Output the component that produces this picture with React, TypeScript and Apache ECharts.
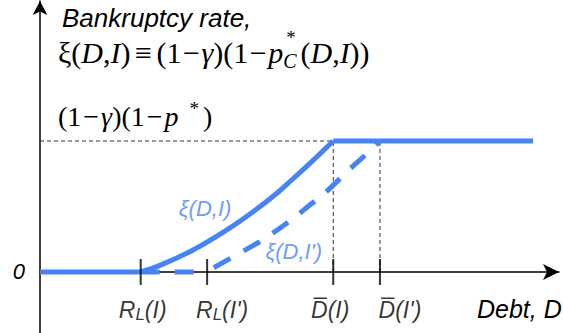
import React, { useEffect, useRef } from "react";
import * as echarts from "echarts";

// ---- data (x: 0..100 along the debt axis, y: 0 = axis, 1 = cap level) ----
const flatLeftX = [0, 19.4];
const flatLeftY = [0, 0];
const curveIX = [19.4, 23.1, 29.5, 36.0, 41.0, 45.7, 48.7, 52.0, 56.5];
const curveIY = [0, 0.05, 0.168, 0.321, 0.458, 0.603, 0.71, 0.829, 1.0];
const plateauX = [56.5, 95.0];
const plateauY = [1, 1];
const flatPrimeX = [19.4, 32.2];
const flatPrimeY = [0, 0];
const curvePrimeX = [32.2, 34.1, 38.5, 42.4, 47.6, 52.0, 55.3, 59.7, 62.6, 65.5];
const curvePrimeY = [0, 0.046, 0.145, 0.233, 0.374, 0.511, 0.618, 0.786, 0.889, 1.0];

const tickValues = [19.4, 32.2, 56.5, 65.5];
const tickLabels = [
  "{m|R}{s|L}{m|(I)}",
  "{m|R}{s|L}{m|(I')}",
  "{m|D\u0305(I)}",
  "{m|D\u0305(I')}",
];
const capLevel = 1;
const curveNames = ["ξ(D,I)", "ξ(D,I')"];

// ---- layout / style ----
const X_MIN = 0;
const X_MAX = 100;
const Y_MIN = -0.466;
const Y_MAX = 2.069;
const tickLabelShift = [2, 15, -3, 20];
const curveLabelPos = [
  [31.8, 0.481],
  [48.9, 0.153],
];
const BLUE = "#4683f5";
const SANS = "Liberation Sans";
const SERIF = "Liberation Serif";

const zip = (xs: number[], ys: number[]) => xs.map((x, i) => [x, ys[i]]);

export default function App() {
  const ref = useRef<HTMLDivElement>(null);
  useEffect(() => {
    if (!ref.current) return;
    const chart = echarts.init(ref.current, null, { renderer: "svg" });
    const blueSolid = { color: BLUE, width: 5, cap: "butt", join: "round" };
    const blueDash = { color: BLUE, width: 5, type: [19, 15], cap: "butt", join: "round" };
    const blueDashCurve = { ...blueDash, dashOffset: 26 };
    const guide = { color: "#333", width: 1, type: [4, 3] };
    const topRich = {
      n: { fontFamily: SERIF, fontSize: 30, color: "#000", lineHeight: 36 },
      i: { fontFamily: SERIF, fontSize: 30, fontStyle: "italic", color: "#000", lineHeight: 36 },
      o: { fontFamily: SERIF, fontSize: 30, color: "#000", lineHeight: 36, padding: [0, 1.5, 0, 1.5] },
      e: { fontFamily: SERIF, fontSize: 30, color: "#000", lineHeight: 36, width: 26, align: "center" },
      s: {
        fontFamily: SERIF,
        fontSize: 20,
        fontStyle: "italic",
        color: "#000",
        lineHeight: 14,
        verticalAlign: "bottom",
        padding: [0, 4, 0, 0],
      },
    };
    const capRich = {
      n: { fontFamily: SERIF, fontSize: 28, color: "#000", lineHeight: 34 },
      i: { fontFamily: SERIF, fontSize: 28, fontStyle: "italic", color: "#000", lineHeight: 34 },
      o: { fontFamily: SERIF, fontSize: 28, color: "#000", lineHeight: 34, padding: [0, 2, 0, 2] },
      p: {
        fontFamily: SERIF,
        fontSize: 19,
        color: "#000",
        lineHeight: 22,
        verticalAlign: "top",
        padding: [0, 4, 0, 11],
      },
    };
    const option: any = {
      animation: false,
      grid: { left: 40, right: 4, top: 1, bottom: 0, containLabel: false },
      xAxis: {
        type: "value",
        min: X_MIN,
        max: X_MAX,
        axisLine: {
          show: true,
          onZero: true,
          symbol: ["none", "arrow"],
          symbolSize: [12, 16],
          lineStyle: { color: "#000", width: 1.5 },
        },
        axisTick: { show: false },
        axisLabel: { show: false },
        splitLine: { show: false },
      },
      yAxis: {
        type: "value",
        min: Y_MIN,
        max: Y_MAX,
        axisLine: {
          show: true,
          onZero: true,
          symbol: ["none", "arrow"],
          symbolSize: [11, 14],
          lineStyle: { color: "#000", width: 1.5 },
        },
        axisTick: { show: false },
        axisLabel: {
          show: true,
          customValues: [0],
          formatter: () => "0",
          margin: 15,
          color: "#000",
          fontFamily: SANS,
          fontStyle: "italic",
          fontSize: 22,
        },
        splitLine: { show: false },
      },
      series: [
        { type: "line", data: [[0, capLevel], [56.5, capLevel]], symbol: "none", lineStyle: guide, z: 1 },
        { type: "line", data: [[56.5, 0], [56.5, capLevel]], symbol: "none", lineStyle: guide, z: 1 },
        { type: "line", data: [[65.5, 0], [65.5, capLevel]], symbol: "none", lineStyle: guide, z: 1 },
        { type: "line", name: curveNames[0], data: zip(flatLeftX, flatLeftY), symbol: "none", lineStyle: blueSolid, z: 3 },
        {
          type: "line",
          name: curveNames[0],
          data: zip(curveIX, curveIY),
          symbol: "none",
          smooth: 0.4,
          lineStyle: blueSolid,
          z: 3,
        },
        { type: "line", name: curveNames[0], data: zip(plateauX, plateauY), symbol: "none", lineStyle: blueSolid, z: 3 },
        { type: "line", name: curveNames[1], data: zip(flatPrimeX, flatPrimeY), symbol: "none", lineStyle: blueDash, z: 3 },
        {
          type: "line",
          name: curveNames[1],
          data: zip(curvePrimeX, curvePrimeY),
          symbol: "none",
          smooth: 0.4,
          lineStyle: blueDashCurve,
          z: 3,
        },
        {
          type: "scatter",
          symbol: "rect",
          symbolSize: [2, 26],
          itemStyle: { color: "#000" },
          z: 4,
          data: tickValues.map((v, i) => ({
            value: [v, 0],
            label: {
              show: true,
              position: "inside",
              offset: [tickLabelShift[i], 38],
              formatter: tickLabels[i],
              rich: {
                m: { fontFamily: SANS, fontStyle: "italic", fontSize: 23, color: "#000", lineHeight: 26 },
                s: {
                  fontFamily: SANS,
                  fontStyle: "italic",
                  fontSize: 17,
                  color: "#000",
                  lineHeight: 14,
                  verticalAlign: "bottom",
                },
              },
            },
          })),
        },
        {
          type: "scatter",
          symbolSize: 0,
          z: 5,
          data: curveLabelPos.map((p, i) => ({
            value: p,
            label: {
              show: true,
              position: "inside",
              formatter: curveNames[i],
              color: BLUE,
              fontFamily: SANS,
              fontStyle: "italic",
              fontSize: 22,
            },
          })),
        },
      ],
      graphic: [
        {
          type: "text",
          x: 62,
          y: 18,
          style: {
            text: "Bankruptcy rate,",
            fontFamily: SANS,
            fontStyle: "italic",
            fontSize: 26,
            fill: "#000",
            verticalAlign: "middle",
          },
        },
        {
          type: "text",
          x: 58,
          y: 52.5,
          style: {
            text: "{n|ξ(}{i|D}{n|,}{i|I}{n|)}{e|≡}{n|(1}{o|−}{i|γ}{n|)(1}{o|−}{i|p}{s|C}{n|(}{i|D}{n|,}{i|I}{n|))}",
            rich: topRich,
            verticalAlign: "middle",
          },
        },
        {
          type: "text",
          x: 291,
          y: 37.5,
          style: {
            text: "*",
            fontFamily: SERIF,
            fontSize: 19,
            fill: "#000",
            align: "center",
            verticalAlign: "middle",
          },
        },
        {
          type: "text",
          x: 58,
          y: 116,
          style: {
            text: "{n|(1}{o|−}{i|γ}{n|)(1}{o|−}{i|p}{p|*}{n|)}",
            rich: capRich,
            verticalAlign: "middle",
          },
        },
        {
          type: "text",
          x: 477,
          y: 309,
          style: {
            text: "Debt, D",
            fontFamily: SANS,
            fontStyle: "italic",
            fontSize: 25,
            fill: "#000",
            verticalAlign: "middle",
          },
        },
      ],
    };
    chart.setOption(option);
    return () => chart.dispose();
  }, []);
  return (
    <div
      ref={ref}
      style={{ position: "fixed", left: 0, top: 0, width: 563, height: 333, background: "#fff" }}
    />
  );
}
